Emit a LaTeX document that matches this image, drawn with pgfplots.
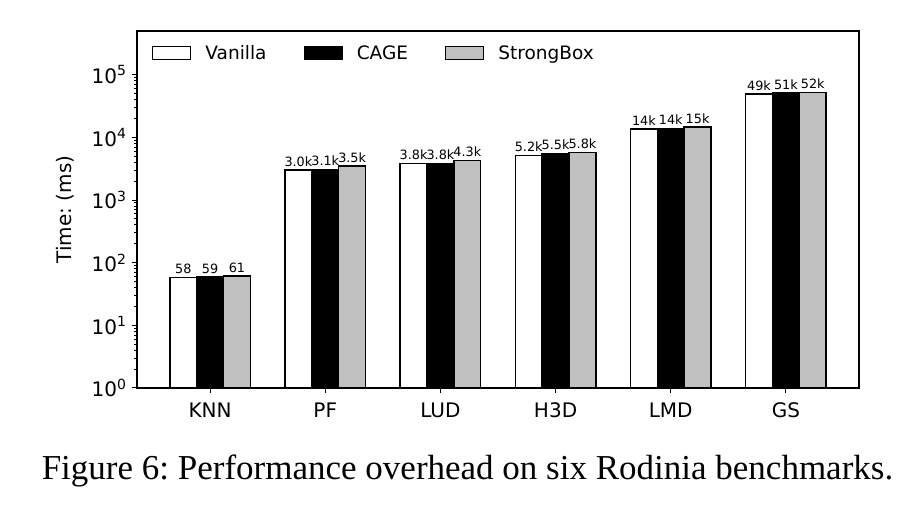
\documentclass[border=0pt]{standalone}
\usepackage{fontspec}
\setmainfont{DejaVu Sans}
\newfontfamily\capfont{Liberation Serif}
\usepackage{pgfplots}
\pgfplotsset{compat=1.18}
\begin{document}
\frenchspacing
\begin{tikzpicture}
\begin{axis}[
  scale only axis,
  width=722pt, height=357pt,
  ymode=log, ymin=1, ymax=5e5, log origin=infty,
  xmin=-0.635, xmax=5.635,
  ybar=0pt, bar width=0.2333,
  xtick={0,1,2,3,4,5},
  xticklabels={KNN,PF,LUD,H3D,LMD,GS},
  ytick={1,10,100,1000,10000,100000},
  yticklabels={10\textsuperscript{0},10\textsuperscript{1},10\textsuperscript{2},10\textsuperscript{3},10\textsuperscript{4},10\textsuperscript{5}},
  tick label style={font=\fontsize{20}{24}\selectfont},
  xticklabel style={yshift=-6pt},
  yticklabel style={xshift=-2pt},
  ylabel={Time: (ms)},
  ylabel style={font=\fontsize{20}{24}\selectfont, at={(axis description cs:-0.099,0.5)}, anchor=center},
  tick align=outside, xtick pos=bottom, ytick pos=left,
  major tick length=5pt, minor tick length=3pt,
  axis line style={line width=1.2pt},
  every tick/.style={black, line width=1pt},
  point meta=explicit symbolic,
  nodes near coords,
  nodes near coords style={font=\fontsize{12.8}{14}\selectfont, inner sep=1pt, yshift=2pt, black},
  legend columns=3,
  legend style={draw=none, fill=none, at={(axis cs:-0.635,5e5)}, anchor=north west, xshift=12pt, yshift=-10pt,
    font=\fontsize{18.5}{22}\selectfont,
    /tikz/every even column/.append style={column sep=35pt}},
  legend image code/.code={\draw[#1, line width=1.2pt] (0pt,-6.5pt) rectangle (38pt,6.5pt); \path (50pt,0pt);},
]
\addplot[draw=black, fill=white, line width=1.4pt] coordinates {(0,58) [58] (1,3000) [3.0k] (2,3800) [3.8k] (3,5200) [5.2k] (4,13600) [14k] (5,49000) [49k]};
\addplot[draw=black, fill=black, line width=1.4pt] coordinates {(0,59) [59] (1,3100) [3.1k] (2,3850) [3.8k] (3,5500) [5.5k] (4,13900) [14k] (5,51000) [51k]};
\addplot[draw=black, fill={rgb,255:red,192;green,192;blue,192}, line width=1.4pt] coordinates {(0,61) [61] (1,3500) [3.5k] (2,4300) [4.3k] (3,5800) [5.8k] (4,14600) [15k] (5,52000) [52k]};
\legend{Vanilla,CAGE,StrongBox}
\end{axis}
\node[anchor=base, font=\capfont\fontsize{35}{38}\selectfont] at (330.5pt,-92pt) {Figure 6: Performance overhead on six Rodinia benchmarks.};
\useasboundingbox (-137pt,-118pt) rectangle (779pt,388pt);
\end{tikzpicture}
\end{document}
